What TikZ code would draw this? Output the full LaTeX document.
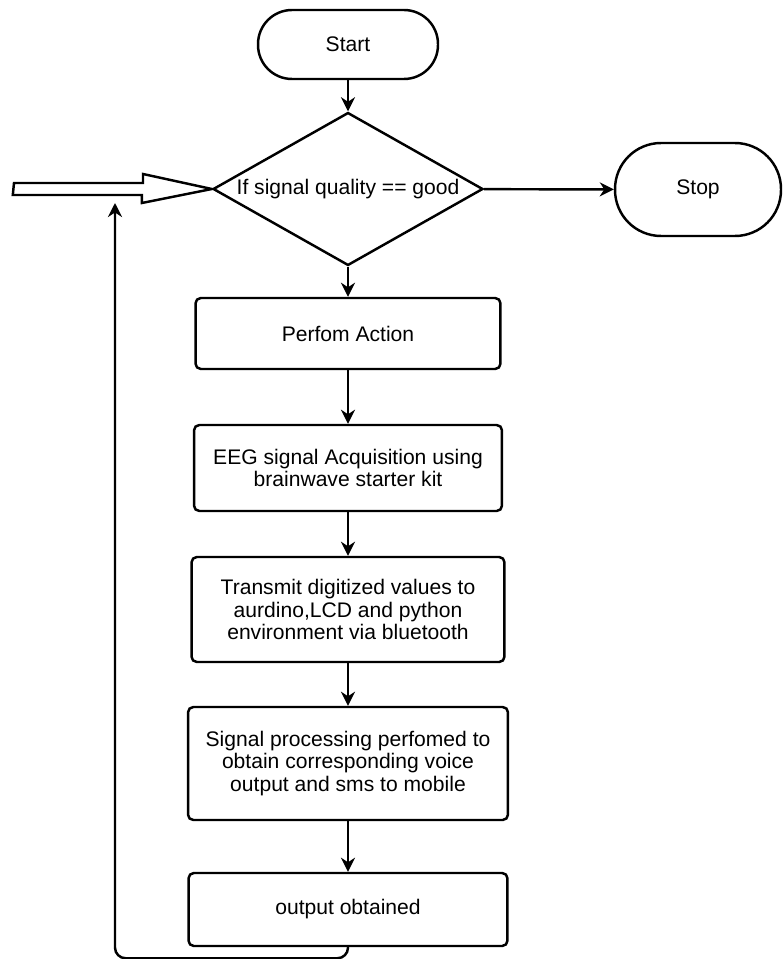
\documentclass[tikz,border=0pt]{standalone}
\usepackage{fontspec}
\setmainfont{Liberation Sans}
\usetikzlibrary{arrows.meta,shapes.geometric,positioning}

\begin{document}
\begin{tikzpicture}[x=0.02cm,y=-0.02cm,>={Stealth[length=8pt,width=8pt]},
	line/.style={line width=1.4pt},
	term/.style={draw, line, rectangle, align=center, inner sep=0pt},
	decision/.style={draw, line, diamond, aspect=1.76, inner sep=0pt, minimum width=5.4cm, minimum height=3.06cm},
	block/.style={draw, line, rectangle, rounded corners=3pt, align=center, inner sep=0pt},
	every node/.style={font=\fontsize{12}{13}\selectfont}]
	\useasboundingbox (0,0) rectangle (782,959);
	
	\node[term, rounded corners=0.68cm, minimum width=3.6cm, minimum height=1.38cm] (start) at (348,44.5) {Start};
	\node[decision] (cond) at (348,189) {If signal quality == good};
	\node[term, rounded corners=0.92cm, minimum width=3.32cm, minimum height=1.86cm] (stop) at (698,189.5) {Stop};
	
	\node[block, minimum width=6.1cm, minimum height=1.42cm] (action) at (348,333.5) {Perfom Action};
	\node[block, minimum width=6.16cm, minimum height=1.72cm] (acquire) at (348,468) {EEG signal Acquisition using\\brainwave starter kit};
	\node[block, minimum width=6.26cm, minimum height=2.1cm] (transmit) at (348,609.5) {Transmit digitized values to\\aurdino,LCD and python\\environment via bluetooth};
	\node[block, minimum width=6.4cm, minimum height=2.26cm] (process) at (348,763.5) {Signal processing perfomed to\\obtain corresponding voice\\output and sms to mobile};
	\node[block, minimum width=6.38cm, minimum height=1.46cm] (result) at (348,909.5) {output obtained};
	
	\coordinate (feed) at (14,189);
	\coordinate (back) at (115,203);
	
	% Arrows
	\draw[line,->] (start) -- (cond);
	\draw[line,->] (cond) -- (stop);
	\draw[line,->] (cond) -- (action);
	\draw[line,->] (action) -- (acquire);
	\draw[line,->] (acquire) -- (transmit);
	\draw[line,->] (transmit) -- (process);
	\draw[line,->] (process) -- (result);
	\draw[line,->,rounded corners=6pt] (result.south) -- ++(0,11) -| (back);
	
	% hollow input arrow
	\draw[line] (feed) ++(0,-6) -- ++(129,0) -- ++(0,-9) -- (cond.west) -- ++(-70,14) -- ++(0,-8) -- ++(-129,0) -- cycle;
	
\end{tikzpicture}
\end{document}
